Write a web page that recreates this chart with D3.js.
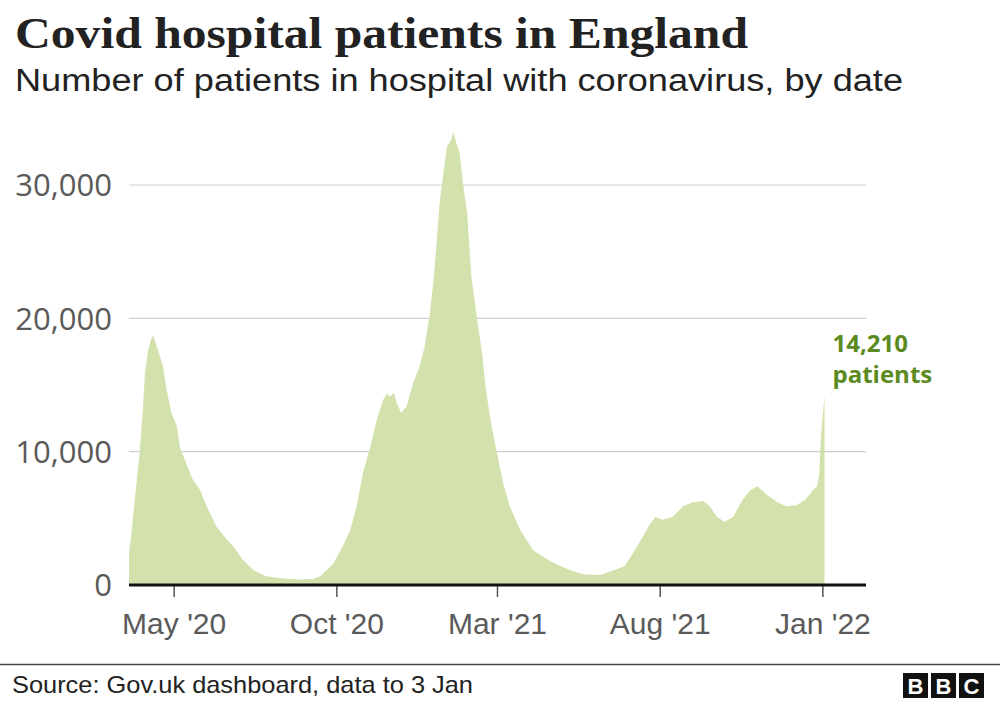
<!DOCTYPE html>
<html>
<head>
<meta charset="utf-8">
<script src="https://cdn.jsdelivr.net/npm/d3@7"></script>
<style>
  html, body { margin: 0; padding: 0; background: #fff; }
  svg { display: block; }
</style>
</head>
<body>
<svg id="chart" width="1000" height="702"></svg>
<script>
// ---- Data ----
const dates = [
  "2020-03-20","2020-03-22","2020-03-25","2020-03-30","2020-04-02","2020-04-04","2020-04-07","2020-04-10","2020-04-12",
  "2020-04-15","2020-04-18","2020-04-21","2020-04-24","2020-04-29","2020-05-04","2020-05-07","2020-05-13","2020-05-19",
  "2020-05-26","2020-06-01","2020-06-10","2020-06-20","2020-06-26","2020-07-05","2020-07-15","2020-07-27","2020-08-12",
  "2020-08-28","2020-09-09","2020-09-16","2020-09-28","2020-10-07","2020-10-14","2020-10-20","2020-10-26","2020-11-02",
  "2020-11-08","2020-11-14","2020-11-18","2020-11-20","2020-11-24","2020-11-27","2020-12-01","2020-12-06","2020-12-12",
  "2020-12-19","2020-12-23","2020-12-28","2020-12-31","2021-01-03","2021-01-06","2021-01-10","2021-01-13","2021-01-17",
  "2021-01-19","2021-01-22","2021-01-25","2021-01-28","2021-02-01","2021-02-05","2021-02-10","2021-02-15","2021-02-19",
  "2021-02-24","2021-03-01","2021-03-07","2021-03-13","2021-03-23","2021-04-04","2021-04-20","2021-04-29","2021-05-09",
  "2021-05-21","2021-06-06","2021-06-15","2021-06-22","2021-06-29","2021-07-07","2021-07-16","2021-07-23","2021-07-28",
  "2021-08-04","2021-08-13","2021-08-23","2021-09-01","2021-09-11","2021-09-17","2021-09-24","2021-10-01","2021-10-09",
  "2021-10-18","2021-10-25","2021-11-01","2021-11-10","2021-11-19","2021-11-28","2021-12-08","2021-12-16","2021-12-23",
  "2021-12-27","2021-12-29","2021-12-30","2021-12-31","2022-01-01","2022-01-02","2022-01-03"
];
const patients = [
  2400,3600,6100,9900,13100,15900,17600,18500,18700,
  17900,17200,16400,14800,12900,11900,10300,9100,7900,
  7100,5900,4400,3400,2900,1900,1100,650,480,
  420,450,650,1600,2900,4100,5900,8400,10400,
  12400,13900,14400,14100,14400,13600,12900,13400,15100,
  16600,17900,20400,22600,25400,28600,31100,32900,33400,
  34000,33100,32400,30100,27900,23100,20100,17400,14400,
  11900,9900,7600,5900,4100,2600,1800,1450,1100,
  800,750,1000,1200,1400,2400,3600,4600,5100,
  4900,5100,5900,6200,6300,5900,5100,4750,5100,
  6400,7100,7400,6750,6250,5900,6000,6400,7100,
  7400,8300,10000,11400,12500,13300,14210
];
const yTicks = [0, 10000, 20000, 30000];
const xTickDates = ["2020-05-01","2020-10-01","2021-03-01","2021-08-01","2022-01-01"];
const xTickLabels = ["May '20","Oct '20","Mar '21","Aug '21","Jan '22"];
const xDomain = ["2020-03-20","2022-02-11"];
const titleText = "Covid hospital patients in England";
const subtitleText = "Number of patients in hospital with coronavirus, by date";
const sourceText = "Source: Gov.uk dashboard, data to 3 Jan";
const annotationLines = ["14,210", "patients"];

// ---- Build ----
(function () {
const parse = d3.utcParse("%Y-%m-%d");
const series = dates.map((d, i) => ({ date: parse(d), value: patients[i] }));

const svg = d3.select("#chart");
const plotLeft = 129, plotRight = 866, plotTop = 185, plotBottom = 585;

const x = d3.scaleUtc().domain(xDomain.map(parse)).range([plotLeft, plotRight]);
const y = d3.scaleLinear().domain([0, 30000]).range([plotBottom, plotTop]);

function fit(sel, w) {
  const n = sel.node();
  const len = n.getComputedTextLength();
  if (Math.abs(len - w) > 1) sel.attr("textLength", w).attr("lengthAdjust", "spacingAndGlyphs");
}

// Title & subtitle
svg.append("text").attr("x", 15).attr("y", 48)
  .attr("font-family", "'Liberation Serif', serif").attr("font-weight", "bold")
  .attr("font-size", 44).attr("fill", "#222").text(titleText).call(fit, 733);
svg.append("text").attr("x", 15).attr("y", 91)
  .attr("font-family", "'Liberation Sans', sans-serif")
  .attr("font-size", 31).attr("fill", "#222").text(subtitleText).call(fit, 888);

// Gridlines
const grid = svg.append("g");
grid.selectAll("line").data(yTicks.filter(t => t > 0)).join("line")
  .attr("x1", plotLeft).attr("x2", plotRight)
  .attr("y1", d => y(d)).attr("y2", d => y(d))
  .attr("stroke", "#cfcfcf").attr("stroke-width", 1.2);

// Y axis labels
const yAxis = d3.axisLeft(y).tickValues(yTicks).tickSize(0).tickPadding(0)
  .tickFormat(d3.format(","));
const yg = svg.append("g").attr("transform", "translate(112,0)").call(yAxis);
yg.select(".domain").remove();
yg.selectAll("text").attr("font-family", "'Open Sans', sans-serif")
  .attr("font-size", 31).attr("fill", "#5a5a5a").attr("dy", "0.35em").attr("x", 0);

// Area
const area = d3.area().x(d => x(d.date)).y0(y(0)).y1(d => y(d.value)).curve(d3.curveLinear);
svg.append("path").datum(series).attr("d", area).attr("fill", "#d3e2ad");

// X axis
const xAxis = d3.axisBottom(x).tickValues(xTickDates.map(parse))
  .tickFormat((d, i) => xTickLabels[i]).tickSize(12).tickPadding(16);
const xg = svg.append("g").attr("transform", `translate(0,${plotBottom})`).call(xAxis);
xg.select(".domain").remove();
xg.selectAll(".tick line").attr("stroke", "#555").attr("stroke-width", 1.5);
xg.selectAll("text").attr("font-family", "'Liberation Sans', sans-serif")
  .attr("font-size", 30).attr("fill", "#5a5a5a");

// Baseline
svg.append("line").attr("x1", plotLeft).attr("x2", plotRight)
  .attr("y1", y(0)).attr("y2", y(0)).attr("stroke", "#111").attr("stroke-width", 3);

// Annotation (two separate text lines)
const last = series[series.length - 1];
svg.selectAll("text.ann").data(annotationLines).join("text").attr("class", "ann")
  .attr("font-family", "'Open Sans', sans-serif")
  .attr("font-weight", "bold").attr("font-size", 24).attr("fill", "#5b8a1e")
  .attr("x", x(last.date) + 8).attr("y", (d, i) => 352 + i * 31).text(d => d);

// Footer
svg.append("line").attr("x1", 0).attr("x2", 1000).attr("y1", 664.5).attr("y2", 664.5)
  .attr("stroke", "#444").attr("stroke-width", 1.5);
svg.append("text").attr("x", 12).attr("y", 693)
  .attr("font-family", "'Liberation Sans', sans-serif").attr("font-size", 24)
  .attr("fill", "#222").text(sourceText).call(fit, 461);

const logo = svg.append("g").attr("transform", "translate(903,673)");
["B","B","C"].forEach((ch, i) => {
  logo.append("rect").attr("x", i * 28).attr("y", 0).attr("width", 25).attr("height", 25).attr("fill", "#111");
  logo.append("text").attr("x", i * 28 + 12.5).attr("y", 21).attr("text-anchor", "middle")
    .attr("font-family", "'Liberation Sans', sans-serif").attr("font-weight", "bold")
    .attr("font-size", 22).attr("fill", "#fff").text(ch);
});
})();
</script>
</body>
</html>
